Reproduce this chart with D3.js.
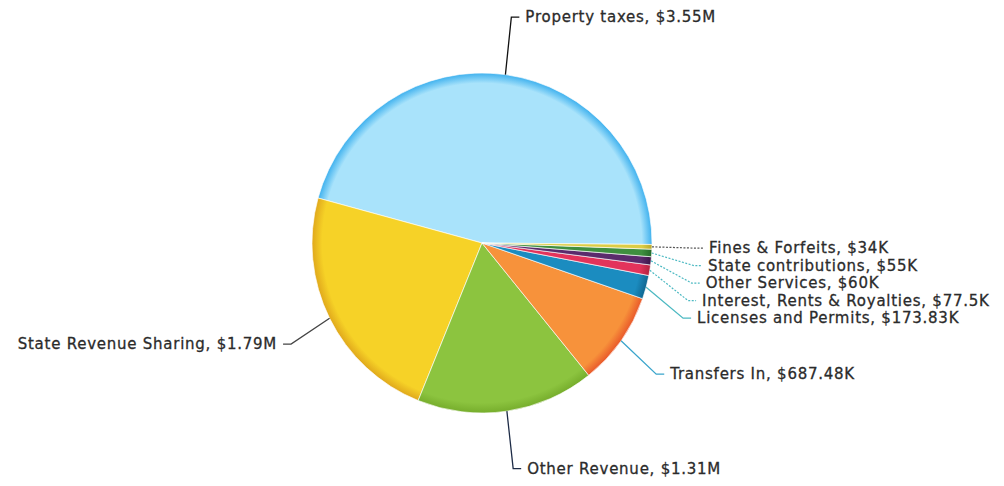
<!DOCTYPE html>
<html>
<head>
<meta charset="utf-8">
<script src="https://cdn.jsdelivr.net/npm/d3@7/dist/d3.min.js"></script>
<style>
  html, body { margin: 0; padding: 0; background: #ffffff; }
  svg { display: block; }
  .lbl { font-family: "DejaVu Sans", Verdana, sans-serif; font-size: 15px; letter-spacing: 0.75px; fill: #2b2b2b; stroke: #2b2b2b; stroke-width: 0.3px; }
</style>
</head>
<body>
<svg id="chart" width="1004" height="486"></svg>
<script>
// Revenue sources, in the order the slices run (counter-clockwise from the right)
const categories = [
  "Property taxes",
  "State Revenue Sharing",
  "Other Revenue",
  "Transfers In",
  "Licenses and Permits",
  "Interest, Rents & Royalties",
  "Other Services",
  "State contributions",
  "Fines & Forfeits"
];
const values = [3550000, 1790000, 1310000, 687480, 173830, 77500, 60000, 55000, 34000];
const valueLabels = ["$3.55M", "$1.79M", "$1.31M", "$687.48K", "$173.83K", "$77.5K", "$60K", "$55K", "$34K"];

// Slice fill (centre) and rim shade
const fills = ["#a9e3fb", "#f6d227", "#8cc43f", "#f7923b", "#1b8cc0", "#e3335b", "#5b2b6c", "#3f8f3f", "#dccd45"];
const rims  = ["#3fb1ee", "#e0a81c", "#76ad2c", "#e9582a", "#0f6690", "#b2223f", "#3d1649", "#266a2a", "#b8a92c"];
const leaderColors = ["#111111", "#444444", "#1d2b46", "#3aa5cc", "#4cb9c2", "#4cb9c2", "#4cb9c2", "#4cb9c2", "#555555"];

const width = 1004, height = 486;
const cx = 482, cy = 243, radius = 170;
const labelRx = 213, labelRy = 228, labelGap = 17.5;
const startDeg = 90.5;

const svg = d3.select("#chart");
const defs = svg.append("defs");

const data = categories.map((c, i) => ({ name: c, value: values[i], text: valueLabels[i], i }));

const pie = d3.pie()
  .sort(null)
  .value(d => d.value)
  .startAngle(startDeg * Math.PI / 180)
  .endAngle(startDeg * Math.PI / 180 - 2 * Math.PI);

const arcs = pie(data);
const arc = d3.arc().innerRadius(0).outerRadius(radius);
const edgeArc = d3.arc().innerRadius(radius).outerRadius(radius);

// radial shading per slice (coordinates local to the pie group)
data.forEach((d, i) => {
  const g = defs.append("radialGradient")
    .attr("id", "grad" + i)
    .attr("gradientUnits", "userSpaceOnUse")
    .attr("cx", 0).attr("cy", 0).attr("r", radius);
  g.append("stop").attr("offset", "0").attr("stop-color", fills[i]);
  g.append("stop").attr("offset", "0.94").attr("stop-color", fills[i]);
  g.append("stop").attr("offset", "1").attr("stop-color", rims[i]);
});

const pieG = svg.append("g").attr("transform", `translate(${cx},${cy})`);

pieG.selectAll("path.slice")
  .data(arcs)
  .join("path")
  .attr("class", "slice")
  .attr("d", arc)
  .attr("fill", d => `url(#grad${d.data.i})`)
  .attr("stroke", "#ffffff")
  .attr("stroke-opacity", 0.8)
  .attr("stroke-width", 0.8);

// label layout: elbow points on an ellipse around the pie, pushed apart vertically
const labels = arcs.map(a => {
  const mid = (a.startAngle + a.endAngle) / 2;
  const side = Math.sin(mid) >= 0 ? 1 : -1;
  return { a, mid, side, y: cy - labelRy * Math.cos(mid) };
});

[1, -1].forEach(side => {
  const group = labels.filter(l => l.side === side).sort((p, q) => p.y - q.y);
  for (let k = 1; k < group.length; k++) {
    if (group[k].y < group[k - 1].y + labelGap) group[k].y = group[k - 1].y + labelGap;
  }
});

labels.forEach(l => {
  const dy = (l.y - cy) / labelRy;
  l.x = cx + l.side * labelRx * Math.sqrt(Math.max(0, 1 - dy * dy));
  const c = edgeArc.centroid(l.a);
  l.ex = cx + c[0];
  l.ey = cy + c[1];
});

const small = d => d.a.value < 100000;

svg.append("g").selectAll("path")
  .data(labels)
  .join("path")
  .attr("d", l => `M${l.ex},${l.ey}L${l.x},${l.y}L${l.x + l.side * 8},${l.y}`)
  .attr("fill", "none")
  .attr("stroke", l => leaderColors[l.a.data.i])
  .attr("stroke-width", l => small(l) ? 1.2 : 1.3)
  .attr("stroke-dasharray", l => small(l) ? "2,1.5" : null);

svg.append("g").selectAll("text")
  .data(labels)
  .join("text")
  .attr("class", "lbl")
  .attr("x", l => l.x + l.side * 14)
  .attr("y", l => l.y)
  .attr("dy", "0.35em")
  .attr("text-anchor", l => l.side > 0 ? "start" : "end")
  .text(l => `${l.a.data.name}, ${l.a.data.text}`);
</script>
</body>
</html>
